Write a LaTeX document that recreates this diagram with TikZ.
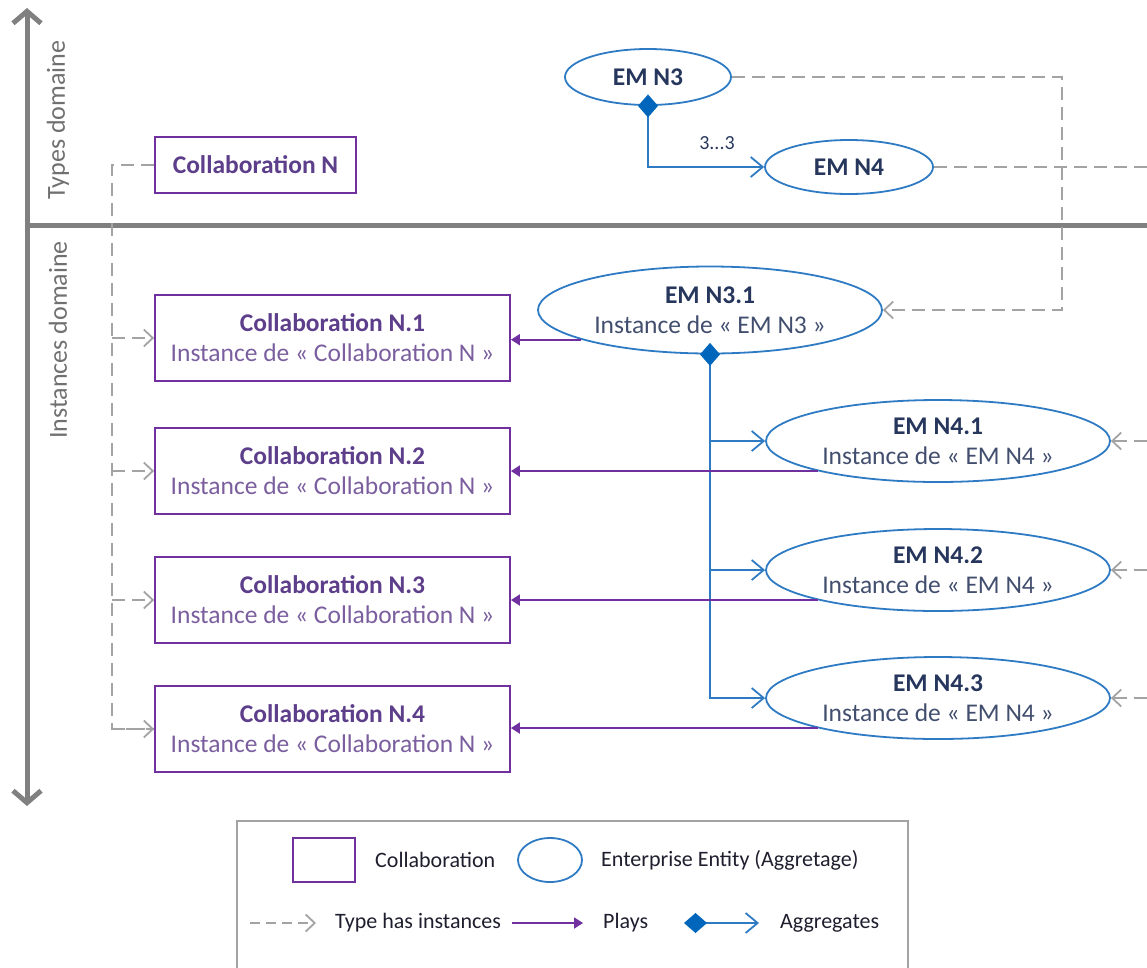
\documentclass[tikz,border=0pt]{standalone}
\usepackage{fontspec}
\setmainfont{Carlito}
\usetikzlibrary{arrows.meta,shapes.geometric}
\definecolor{cpurple}{HTML}{7030A0}
\definecolor{cblue}{HTML}{2E7BC4}
\definecolor{cdblue}{HTML}{0066BB}
\definecolor{cgray}{HTML}{A3A3A3}
\definecolor{caxis}{HTML}{808080}
\definecolor{colTitle}{HTML}{5D3E8A}
\definecolor{colInst}{HTML}{7A5E9E}
\definecolor{emTitle}{HTML}{26365C}
\definecolor{emInst}{HTML}{424E6E}
\definecolor{lgtext}{HTML}{1E1E2E}
\definecolor{axtext}{HTML}{707070}
\newcommand\fmain{\fontsize{25.5}{30}\selectfont}
\newcommand\frot{\fontsize{26}{30}\selectfont}
\newcommand\flegend{\fontsize{22}{26}\selectfont}
\newcommand\fsmall{\fontsize{20}{24}\selectfont}
\newcommand\coltext[2]{\textcolor{colTitle}{\bfseries #1}\\\textcolor{colInst}{#2}}
\newcommand\emtext[2]{\makebox[0pt]{\textcolor{emTitle}{\bfseries #1}}\\\makebox[0pt]{\textcolor{emInst}{#2}}}
\tikzset{
  collab/.style={draw=cpurple, line width=1.8pt, minimum width=355pt, minimum height=86pt, align=center, inner sep=0pt, font=\fmain},
  entity/.style={ellipse, draw=cblue, line width=1.8pt, align=center, inner sep=0pt, font=\fmain},
  typeinst/.style={draw=cgray, line width=1.8pt, dash pattern=on 13pt off 7pt, -{Straight Barb[length=9pt,width=17pt]}},
  typeline/.style={draw=cgray, line width=1.8pt, dash pattern=on 13pt off 7pt},
  plays/.style={draw=cpurple, line width=1.8pt, -{Triangle[length=9pt,width=11pt]}},
  aggrfull/.style={draw=cblue, line width=1.8pt, {Diamond[length=23pt,width=20pt,color=cdblue]}-{Straight Barb[length=12pt,width=20pt]}},
  aggrend/.style={draw=cblue, line width=1.8pt, -{Straight Barb[length=12pt,width=20pt]}},
  axis/.style={draw=caxis, line width=5pt},
  lgtxt/.style={anchor=west, font=\flegend, text=lgtext, inner sep=0pt}
}
\begin{document}
\begin{tikzpicture}[x=1pt,y=-1pt]
\useasboundingbox (0,0) rectangle (1147,967);

% axes
\coordinate (axtop) at (27,8);
\coordinate (axbot) at (27,806);
\coordinate (hl) at (27,225);
\coordinate (hr) at (1150,225);
\draw[axis, {Straight Barb[length=12pt,width=28pt]}-{Straight Barb[length=12pt,width=28pt]}] (axbot) -- (axtop);
\draw[axis] (hl) -- (hr);
\node[rotate=90, font=\frot, text=axtext] (tdom) at (58,120) {Types domaine};
\node[rotate=90, font=\frot, text=axtext] (idom) at (58,340) {Instances domaine};

% collaboration boxes
\node[draw=cpurple, line width=1.8pt, minimum width=201pt, minimum height=56pt, inner sep=0pt, font=\fmain, text=colTitle] (cN) at (255.5,165) {\bfseries Collaboration N};
\node[collab] (c1) at (332.5,338) {\coltext{Collaboration N.1}{Instance de « Collaboration N »}};
\node[collab] (c2) at (332.5,471) {\coltext{Collaboration N.2}{Instance de « Collaboration N »}};
\node[collab] (c3) at (332.5,600) {\coltext{Collaboration N.3}{Instance de « Collaboration N »}};
\node[collab] (c4) at (332.5,729) {\coltext{Collaboration N.4}{Instance de « Collaboration N »}};

% entities
\node[entity, minimum width=166pt, minimum height=56pt] (n3) at (648,77) {\makebox[0pt]{\textcolor{emTitle}{\bfseries EM N3}}};
\node[entity, minimum width=168pt, minimum height=54pt] (n4) at (849,167) {\makebox[0pt]{\textcolor{emTitle}{\bfseries EM N4}}};
\node[entity, minimum width=344pt, minimum height=87pt] (n31) at (710,310) {\emtext{EM N3.1}{Instance de « EM N3 »}};
\node[entity, minimum width=344pt, minimum height=82pt] (n41) at (938,441) {\emtext{EM N4.1}{Instance de « EM N4 »}};
\node[entity, minimum width=344pt, minimum height=82pt] (n42) at (938,570) {\emtext{EM N4.2}{Instance de « EM N4 »}};
\node[entity, minimum width=344pt, minimum height=82pt] (n43) at (938,698) {\emtext{EM N4.3}{Instance de « EM N4 »}};

\node[font=\fsmall, text=emTitle, inner sep=0pt] (lbl) at (717,143) {3...3};

% type has instances (left)
\coordinate (sp) at (112,165);
\draw[typeline] (cN.west) -- (sp) |- (c4.west);
\draw[typeinst] (sp |- c4.west) -- (c4.west);
\draw[typeinst] (sp |- c1.west) -- (c1.west);
\draw[typeinst] (sp |- c2.west) -- (c2.west);
\draw[typeinst] (sp |- c3.west) -- (c3.west);

% type has instances (right)
\coordinate (r1) at (1062,77);
\coordinate (edge) at (1147,0);
\draw[typeinst] (n3.east) -- (r1) |- (n31.east);
\draw[typeline] (n4.east) -- (n4.east -| edge);
\draw[typeinst] (n41.east -| edge) -- (n41.east);
\draw[typeinst] (n42.east -| edge) -- (n42.east);
\draw[typeinst] (n43.east -| edge) -- (n43.east);

% aggregates
\draw[aggrfull] ([yshift=11.5pt]n3.south) |- (n4.west);
\draw[aggrfull] ([yshift=11.5pt]n31.south) |- (n43.west);
\draw[aggrend] (n41.west -| n31.south) -- (n41.west);
\draw[aggrend] (n42.west -| n31.south) -- (n42.west);

% plays
\draw[plays] (n31.193.7) -- (n31.193.7 -| c1.east);
\draw[plays] (n41.194.5) -- (n41.194.5 -| c2.east);
\draw[plays] (n42.194.5) -- (n42.194.5 -| c3.east);
\draw[plays] (n43.194.5) -- (n43.194.5 -| c4.east);

% legend
\draw[draw=cgray, line width=1.5pt] (237,990) -- (237,821) -- (908,821) -- (908,990);
\node[draw=cpurple, line width=1.8pt, minimum width=62pt, minimum height=44pt, inner sep=0pt] (lgc) at (324,860) {};
\node[lgtxt] (lgct) at (375,860) {Collaboration};
\node[ellipse, draw=cblue, line width=1.8pt, minimum width=64pt, minimum height=44pt, inner sep=0pt] (lge) at (550,860) {};
\node[lgtxt] (lget) at (601,860) {Enterprise Entity (Aggretage)};
\coordinate (l1a) at (250,923);
\coordinate (l1b) at (316,923);
\draw[typeinst, dash pattern=on 10pt off 6pt] (l1a) -- (l1b);
\node[lgtxt] (lg1) at (335,923) {Type has instances};
\coordinate (l2a) at (512,923);
\coordinate (l2b) at (583,923);
\draw[plays] (l2a) -- (l2b);
\node[lgtxt] (lg2) at (603,923) {Plays};
\coordinate (l3a) at (684,923);
\coordinate (l3b) at (759,923);
\draw[aggrfull] (l3a) -- (l3b);
\node[lgtxt] (lg3) at (780,923) {Aggregates};
\end{tikzpicture}
\end{document}
